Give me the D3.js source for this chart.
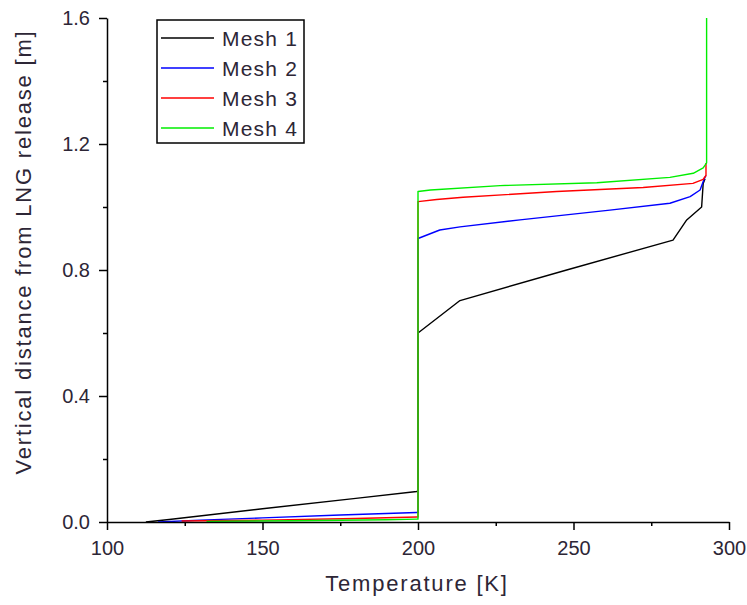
<!DOCTYPE html>
<html><head><meta charset="utf-8">
<script src="https://cdn.jsdelivr.net/npm/d3@7"></script>
<style>body{margin:0;background:#fff}svg{display:block}text{font-family:"Liberation Sans",Arial,sans-serif}</style>
</head><body>
<script>
const seriesNames = ["Mesh 1","Mesh 2","Mesh 3","Mesh 4"];
const seriesColors = ["#000000","#0000ff","#ff0000","#00ee00"];
const mesh1 = [[112.5,0],[120,0.008],[150,0.042],[180,0.075],[199.6,0.097],[200,0.1],[200,0.6],[213.5,0.703],[247.8,0.80],[282,0.895],[286.4,0.959],[291.2,1.0],[291.7,1.075],[292.3,1.09]];
const mesh2 = [[116.4,0],[130,0.006],[150,0.013],[175,0.022],[199.6,0.03],[200,0.03],[200,0.9],[207,0.927],[213.5,0.937],[232.8,0.959],[261.7,0.99],[281,1.012],[287.5,1.033],[290.7,1.054],[292.1,1.091],[292.6,1.1]];
const mesh3 = [[124,0.003],[150,0.006],[180,0.011],[199.6,0.016],[200,0.016],[200,1.017],[206,1.024],[214.5,1.031],[244.6,1.049],[272.4,1.062],[288.4,1.075],[291.7,1.088],[292.6,1.1],[292.6,1.14]];
const mesh4 = [[132,0.002],[160,0.004],[190,0.007],[199.6,0.009],[200,0.009],[200,1.049],[204,1.054],[226.4,1.068],[257.5,1.077],[281,1.094],[288.5,1.107],[291.7,1.124],[292.8,1.14],[292.8,1.6]];
const seriesData = [mesh1, mesh2, mesh3, mesh4];
const xTicks = [100,150,200,250,300];
const yTicks = [0.0,0.4,0.8,1.2,1.6];
const xMinor = [125,175,225,275];
const yMinor = [0.2,0.6,1.0,1.4];

const W=747,H=605;
const svg=d3.select("body").append("svg").attr("width",W).attr("height",H);
const x=d3.scaleLinear().domain([100,300]).range([107,729]);
const y=d3.scaleLinear().domain([0,1.6]).range([522,18]);
const txt="#2d2636";

// lines
const line=d3.line().x(d=>x(d[0])).y(d=>y(d[1]));
seriesData.forEach((s,i)=>{
  svg.append("path").attr("d",line(s)).attr("fill","none")
    .attr("stroke",seriesColors[i]).attr("stroke-width",1.4).attr("stroke-linejoin","round");
});

// axes
const xa=svg.append("g").attr("transform","translate(0,522)");
xa.call(d3.axisBottom(x).tickValues(xTicks).tickFormat(d3.format("d")).tickSize(8).tickSizeOuter(0));
const xm=svg.append("g").attr("transform","translate(0,522)");
xm.call(d3.axisBottom(x).tickValues(xMinor).tickFormat("").tickSize(4).tickSizeOuter(0));
xm.select(".domain").remove();
const ya=svg.append("g").attr("transform","translate(107,0)");
ya.call(d3.axisLeft(y).tickValues(yTicks).tickFormat(d3.format(".1f")).tickSize(8).tickSizeOuter(0));
const ym=svg.append("g").attr("transform","translate(107,0)");
ym.call(d3.axisLeft(y).tickValues(yMinor).tickFormat("").tickSize(4).tickSizeOuter(0));
ym.select(".domain").remove();
svg.selectAll(".domain").attr("stroke","#000").attr("stroke-width",1.5);
svg.selectAll(".tick line").attr("stroke","#000").attr("stroke-width",1.5);
xa.selectAll("text").attr("font-size",20).attr("fill",txt).attr("y",19).attr("dy","0.71em").attr("font-family","Liberation Sans, Arial, sans-serif");
ya.selectAll("text").attr("font-size",20).attr("fill",txt).attr("x",-17).attr("font-family","Liberation Sans, Arial, sans-serif");

// titles
svg.append("text").attr("x",417).attr("y",591).attr("text-anchor","middle")
  .attr("font-size",22).attr("letter-spacing","1.8px").attr("fill",txt).text("Temperature [K]");
svg.append("text").attr("transform","translate(31,252) rotate(-90)").attr("text-anchor","middle")
  .attr("font-size",22).attr("letter-spacing","1.8px").attr("fill",txt).text("Vertical distance from LNG release [m]");

// legend
const lg=svg.append("g");
lg.append("rect").attr("x",157).attr("y",20).attr("width",147).attr("height",123)
  .attr("fill","#fff").attr("stroke","#000").attr("stroke-width",1.5);
seriesNames.forEach((n,i)=>{
  const yy=38+i*30;
  lg.append("line").attr("x1",161).attr("x2",214).attr("y1",yy).attr("y2",yy)
    .attr("stroke",seriesColors[i]).attr("stroke-width",1.4);
  lg.append("text").attr("x",222).attr("y",yy+8).attr("font-size",21).attr("letter-spacing","1.2px")
    .attr("fill",txt).text(n);
});
</script>
</body></html>
